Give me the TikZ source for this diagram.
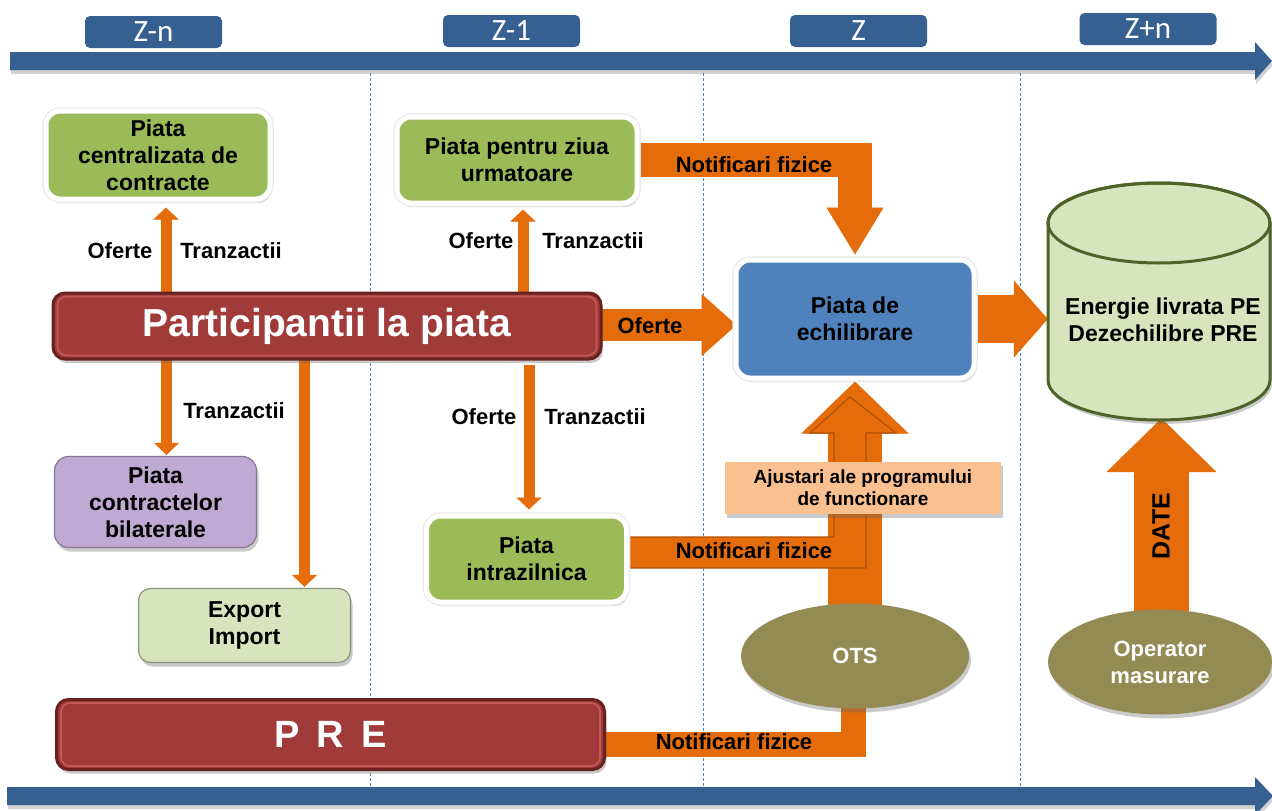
\documentclass[tikz,border=0pt]{standalone}
\usepackage{fontspec}
\setmainfont{Liberation Sans}
\newfontfamily\calfont{Carlito}
\usetikzlibrary{shapes.geometric,shadows,arrows.meta,calc}
\definecolor{tlblue}{RGB}{55,96,146}
\definecolor{dashblue}{RGB}{79,129,189}
\definecolor{mgreen}{RGB}{155,187,89}
\definecolor{lgreen}{RGB}{215,228,189}
\definecolor{lpurple}{RGB}{192,170,212}
\definecolor{dred}{RGB}{161,59,58}
\definecolor{dredb}{RGB}{105,33,31}
\definecolor{lred}{RGB}{196,90,88}
\definecolor{pblue}{RGB}{79,129,189}
\definecolor{orng}{RGB}{228,108,10}
\definecolor{dorng}{RGB}{176,80,6}
\definecolor{peach}{RGB}{250,192,144}
\definecolor{olive}{RGB}{148,138,84}
\definecolor{cylb}{RGB}{79,98,40}
\pgfdeclarelayer{bg}
\pgfsetlayers{bg,main}
\tikzset{
  ntxt/.style={font=\bfseries\fontsize{23}{27}\selectfont, align=center, text=black, inner sep=0pt},
  lbl/.style={font=\bfseries\fontsize{22}{26}\selectfont, text=black, inner sep=0pt},
  daybox/.style={fill=tlblue, rounded corners=5pt, minimum width=137pt, minimum height=32pt, inner sep=0pt, text=white, font=\calfont\fontsize{31}{31}\selectfont},
  shad/.style={drop shadow={shadow xshift=2pt, shadow yshift=-4pt, opacity=0.35, fill=black!60}},
  gbox/.style={ntxt, fill=mgreen, draw=white, line width=5pt, rounded corners=14pt, shad, preaction={draw=black!9, line width=7.5pt}},
  redbox/.style={fill=dred, draw=dredb, line width=3pt, rounded corners=12pt, shad, text=white, font=\bfseries\fontsize{39}{44}\selectfont, inner sep=0pt},
  redrim/.style={draw=lred, line width=1.6pt, rounded corners=9pt},
  pbox/.style={ntxt, fill=lpurple, draw=lpurple!70!black, line width=1.2pt, rounded corners=14pt, shad},
  lgbox/.style={ntxt, fill=lgreen, draw=lgreen!65!black, line width=1.2pt, rounded corners=12pt, shad},
  ajbox/.style={ntxt, font=\bfseries\fontsize{19}{22}\selectfont, fill=peach, shad},
  olell/.style={ellipse, fill=olive, shad, inner sep=0pt, text=white, align=center, font=\bfseries\fontsize{22}{27}\selectfont},
  tarr/.style={draw=orng, line width=11pt, -{Triangle[width=25pt,length=12pt,line width=0.5pt]}},
  barr/.style={draw=orng, line width=#1, line join=miter},
  tline/.style={fill=tlblue, drop shadow={shadow xshift=1pt, shadow yshift=-4pt, opacity=0.3, fill=black!60}},
  vsep/.style={draw=dashblue, line width=0.9pt, dash pattern=on 3pt off 2pt},
}
\begin{document}
\begin{tikzpicture}[x=1pt,y=-1pt]
\useasboundingbox (0,0) rectangle (1272,811);

% timelines
\fill[tline] (10,52) -- (1255,52) -- (1255,42) -- (1272,61) -- (1255,80) -- (1255,70) -- (10,70) -- cycle;
\fill[tline] (7,787) -- (1255,787) -- (1255,777) -- (1273,796) -- (1255,815) -- (1255,805) -- (7,805) -- cycle;

\node[daybox] (zn) at (153.5,32) {Z-n};
\node[daybox] (z1) at (511.5,31) {Z-1};
\node[daybox] (z0) at (858.5,31) {Z};
\node[daybox] (zp) at (1148,29) {Z+n};

% boxes
\node[gbox, minimum width=224pt, minimum height=88pt] (pcc) at (158,155) {Piata\\centralizata de\\contracte};
\node[gbox, minimum width=240pt, minimum height=86pt] (pzu) at (517,160) {Piata pentru ziua\\urmatoare};
\node[redbox, minimum width=548pt, minimum height=66pt] (part) at (327,326) {Participantii la piata};
\draw[redrim] ($(part.north west)+(6,5)$) rectangle ($(part.south east)+(-6,-5)$);
\node[pbox, minimum width=202pt, minimum height=91pt] (pcb) at (155.5,502) {Piata\\contractelor\\bilaterale};
\node[lgbox, minimum width=212pt, minimum height=74pt] (exim) at (244.5,625.5) {Export\\Import};
\node[gbox, minimum width=200pt, minimum height=86pt] (pi) at (526.5,559) {Piata\\intrazilnica};
\node[redbox, minimum width=548pt, minimum height=70pt, font=\bfseries\fontsize{38}{40}\selectfont] (pre) at (330.5,734.5) {P\hspace{0.45em}R\hspace{0.45em}E};
\draw[redrim] ($(pre.north west)+(6,5)$) rectangle ($(pre.south east)+(-6,-5)$);
\node[gbox, fill=pblue, minimum width=238pt, minimum height=118pt] (pde) at (855,319) {Piata de\\echilibrare};
\node[ajbox, minimum width=276pt, minimum height=52pt] (ajust) at (863,488) {Ajustari ale programului\\de functionare};
\node[olell, minimum width=228pt, minimum height=105pt] (ots) at (855,656) {OTS};
\node[olell, minimum width=224pt, minimum height=105pt] (om) at (1160,662) {Operator\\masurare};

% cylinder
\node[minimum width=222pt, minimum height=237pt, inner sep=0pt] (cyl) at (1159,301.5) {};
\filldraw[draw=cylb, line width=3pt, fill=lgreen, shad] (1048,223) -- (1048,380) arc[start angle=180, end angle=0, x radius=111, y radius=40] -- (1270,223) arc[start angle=0, end angle=-180, x radius=111, y radius=40] -- cycle;
\draw[cylb, line width=3pt] (1159,223) ellipse[x radius=111, y radius=40];
\node[ntxt] (cyltxt) at (1163,320) {Energie livrata PE\\Dezechilibre PRE};

% labels
\node[lbl] (l1) at (120,251) {Oferte};
\node[lbl] (l2) at (231,251) {Tranzactii};
\node[lbl] (l3) at (481,241) {Oferte};
\node[lbl] (l4) at (593,241) {Tranzactii};
\node[lbl] (l5) at (234,411) {Tranzactii};
\node[lbl] (l6) at (484,417) {Oferte};
\node[lbl] (l7) at (595,417) {Tranzactii};
\node[lbl] (l8) at (650,326) {Oferte};
\node[lbl] (l9) at (754,165) {Notificari fizice};
\node[lbl] (l10) at (754,551) {Notificari fizice};
\node[lbl] (l11) at (734,742) {Notificari fizice};
\node[lbl, font=\bfseries\fontsize{25}{25}\selectfont, rotate=90] (date) at (1161,526) {DATE};

\begin{pgfonlayer}{bg}
\draw[vsep] (370,73) -- (370,786);
\draw[vsep] (703,73) -- (703,786);
\draw[vsep] (1020,73) -- (1020,786);

% thin arrows
\coordinate (t1) at ($(pcc.south)+(8,6)$);
\draw[tarr] (t1 |- part.center) -- (t1);
\coordinate (t2) at ($(pzu.south)+(6,4)$);
\draw[tarr] (t2 |- part.center) -- (t2);
\coordinate (t3) at ($(pcb.north)+(11,-1)$);
\draw[tarr] (t3 |- part.center) -- (t3);
\coordinate (t4) at ($(exim.north)+(60,-1)$);
\draw[tarr] (t4 |- part.center) -- (t4);
\coordinate (t5) at ($(pi.north)+(2.5,-4)$);
\coordinate (s5) at ($(part.south)+(0,4)$);
\draw[tarr] (t5 |- s5) -- (t5);

% block arrows
\draw[barr=32pt, -{Triangle[width=62pt,length=35pt,line width=0.5pt]}] ($(part.east)+(-2,-1)$) -- ($(part.east -| pde.west)+(3,-1)$);
\draw[barr=48pt, -{Triangle[width=77pt,length=34pt,line width=0.5pt]}] ($(pde.east)+(-2,0)$) -- (pde.east -| cyl.west);
\draw[barr=34pt, -{Triangle[width=57pt,length=47pt,line width=0.5pt]}] (pzu.east) -| ($(pde.north)+(0,-3)$);
\draw[barr=54pt, -{Triangle[width=107pt,length=52pt,line width=0.5pt]}] ($(ots.north)+(0,2)$) -- ($(pde.south)+(0,1)$);
\filldraw[fill=orng, draw=dorng, line width=1.1pt, line join=miter] ($(pi.east)+(0,-22)$) -- (834,537) -- (834,433) -- (810,433) -- (850,397) -- (896,433) -- (866,433) -- (866,568) -- ($(pi.east)+(0,9)$) -- cycle;
\draw[barr=25pt] ($(pre.east)+(-2,10)$) -| ($(ots.south)+(-1.5,-3)$);
\draw[barr=55pt, -{Triangle[width=110pt,length=54pt,line width=0.5pt]}] ($(om.north)+(1.5,2)$) -- ($(om.north |- cyl.south)+(1.5,-2)$);
\end{pgfonlayer}
\end{tikzpicture}
\end{document}
